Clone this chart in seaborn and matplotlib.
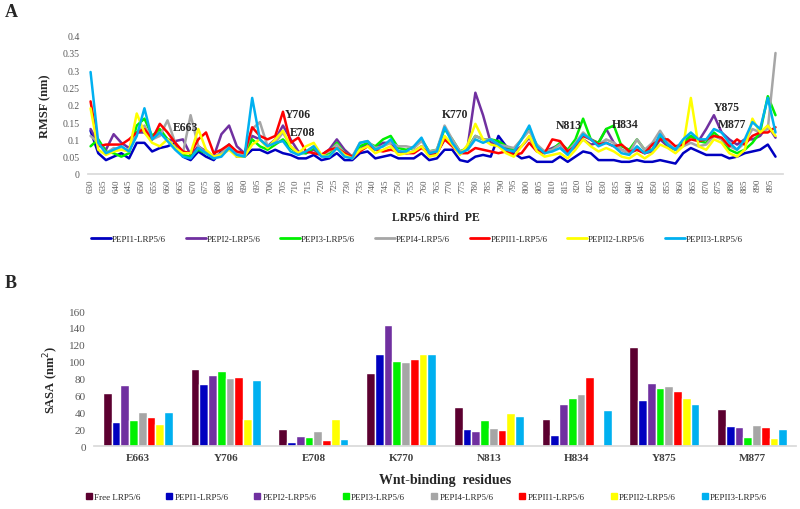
import numpy as np
import pandas as pd
import seaborn as sns
import matplotlib.pyplot as plt
from matplotlib.lines import Line2D

# ---- panel A: RMSF per residue (read every 3rd residue) ----
residues = list(range(630, 898, 3))

pepi1 = [0.125, 0.06, 0.04, 0.05, 0.06, 0.045, 0.09, 0.09, 0.065, 0.075,
         0.08, 0.09, 0.05, 0.04, 0.065, 0.05, 0.04, 0.065, 0.085, 0.05,
         0.05, 0.07, 0.07, 0.06, 0.07, 0.06, 0.055, 0.045, 0.045, 0.055,
         0.04, 0.045, 0.06, 0.04, 0.04, 0.06, 0.065, 0.045, 0.05, 0.055,
         0.045, 0.045, 0.045, 0.06, 0.04, 0.045, 0.07, 0.07, 0.04, 0.035,
         0.05, 0.055, 0.05, 0.11, 0.08, 0.06, 0.045, 0.05, 0.035, 0.035,
         0.035, 0.05, 0.035, 0.05, 0.065, 0.06, 0.04, 0.04, 0.04, 0.035,
         0.035, 0.04, 0.035, 0.035, 0.04, 0.035, 0.03, 0.06, 0.075, 0.065,
         0.055, 0.055, 0.055, 0.045, 0.05, 0.06, 0.065, 0.07, 0.085, 0.05]
pepi2 = [0.13, 0.09, 0.07, 0.115, 0.09, 0.075, 0.12, 0.12, 0.1, 0.12,
         0.1, 0.095, 0.1, 0.055, 0.08, 0.065, 0.05, 0.115, 0.14, 0.08,
         0.06, 0.11, 0.1, 0.08, 0.1, 0.14, 0.1, 0.065, 0.06, 0.07,
         0.055, 0.07, 0.1, 0.07, 0.05, 0.07, 0.09, 0.075, 0.09, 0.09,
         0.065, 0.06, 0.065, 0.08, 0.055, 0.06, 0.1, 0.09, 0.06, 0.08,
         0.235, 0.17, 0.09, 0.09, 0.075, 0.065, 0.08, 0.105, 0.07, 0.065,
         0.075, 0.085, 0.06, 0.08, 0.1, 0.085, 0.09, 0.13, 0.09, 0.07,
         0.06, 0.07, 0.06, 0.065, 0.1, 0.08, 0.07, 0.09, 0.11, 0.095,
         0.13, 0.17, 0.12, 0.1, 0.085, 0.1, 0.1, 0.11, 0.14, 0.105]
pepi3 = [0.08, 0.1, 0.065, 0.06, 0.05, 0.06, 0.14, 0.16, 0.11, 0.13,
         0.1, 0.075, 0.055, 0.05, 0.07, 0.06, 0.045, 0.06, 0.08, 0.055,
         0.05, 0.1, 0.08, 0.07, 0.085, 0.1, 0.075, 0.06, 0.06, 0.075,
         0.055, 0.06, 0.09, 0.06, 0.05, 0.08, 0.09, 0.08, 0.1, 0.11,
         0.075, 0.07, 0.075, 0.1, 0.065, 0.07, 0.13, 0.1, 0.065, 0.075,
         0.11, 0.1, 0.1, 0.095, 0.08, 0.07, 0.1, 0.13, 0.08, 0.065,
         0.07, 0.09, 0.07, 0.1, 0.16, 0.1, 0.09, 0.13, 0.14, 0.08,
         0.07, 0.1, 0.07, 0.07, 0.11, 0.085, 0.07, 0.09, 0.11, 0.095,
         0.09, 0.12, 0.1, 0.07, 0.06, 0.07, 0.09, 0.12, 0.225, 0.17]
pepi4 = [0.11, 0.09, 0.06, 0.075, 0.07, 0.07, 0.12, 0.14, 0.1, 0.11,
         0.155, 0.09, 0.06, 0.17, 0.08, 0.06, 0.05, 0.06, 0.085, 0.06,
         0.055, 0.13, 0.15, 0.08, 0.09, 0.12, 0.08, 0.06, 0.065, 0.08,
         0.055, 0.065, 0.085, 0.06, 0.05, 0.09, 0.095, 0.075, 0.08, 0.09,
         0.08, 0.08, 0.075, 0.095, 0.065, 0.07, 0.14, 0.1, 0.065, 0.07,
         0.11, 0.1, 0.1, 0.085, 0.08, 0.075, 0.1, 0.125, 0.085, 0.065,
         0.07, 0.085, 0.065, 0.09, 0.12, 0.1, 0.085, 0.1, 0.09, 0.07,
         0.06, 0.1, 0.07, 0.09, 0.125, 0.09, 0.07, 0.08, 0.09, 0.08,
         0.085, 0.11, 0.1, 0.08, 0.07, 0.09, 0.13, 0.12, 0.13, 0.35]
pepii1 = [0.21, 0.08, 0.085, 0.085, 0.085, 0.1, 0.12, 0.13, 0.1, 0.145,
          0.12, 0.09, 0.065, 0.06, 0.1, 0.12, 0.06, 0.07, 0.085, 0.065,
          0.06, 0.135, 0.11, 0.1, 0.11, 0.18, 0.09, 0.105, 0.065, 0.06,
          0.055, 0.07, 0.075, 0.06, 0.05, 0.065, 0.08, 0.07, 0.065, 0.07,
          0.065, 0.06, 0.06, 0.075, 0.06, 0.06, 0.1, 0.08, 0.06, 0.06,
          0.075, 0.07, 0.065, 0.06, 0.065, 0.055, 0.06, 0.09, 0.065, 0.06,
          0.1, 0.095, 0.065, 0.08, 0.11, 0.1, 0.085, 0.09, 0.08, 0.085,
          0.065, 0.07, 0.06, 0.085, 0.1, 0.1, 0.08, 0.085, 0.1, 0.095,
          0.1, 0.11, 0.105, 0.08, 0.1, 0.085, 0.11, 0.12, 0.12, 0.135]
pepii2 = [0.19, 0.07, 0.055, 0.065, 0.07, 0.065, 0.175, 0.12, 0.09, 0.08,
          0.1, 0.075, 0.06, 0.06, 0.13, 0.07, 0.05, 0.055, 0.07, 0.05,
          0.05, 0.085, 0.1, 0.075, 0.1, 0.125, 0.08, 0.06, 0.08, 0.09,
          0.055, 0.05, 0.075, 0.055, 0.045, 0.07, 0.08, 0.06, 0.07, 0.08,
          0.055, 0.06, 0.065, 0.08, 0.05, 0.055, 0.11, 0.085, 0.055, 0.085,
          0.145, 0.1, 0.085, 0.08, 0.06, 0.05, 0.08, 0.11, 0.065, 0.05,
          0.055, 0.06, 0.045, 0.07, 0.1, 0.08, 0.065, 0.075, 0.065, 0.05,
          0.045, 0.06, 0.045, 0.06, 0.085, 0.075, 0.06, 0.08, 0.22, 0.08,
          0.07, 0.1, 0.09, 0.06, 0.05, 0.07, 0.16, 0.12, 0.14, 0.11]
pepii3 = [0.295, 0.09, 0.06, 0.07, 0.08, 0.065, 0.11, 0.19, 0.1, 0.12,
          0.095, 0.07, 0.05, 0.045, 0.075, 0.06, 0.045, 0.05, 0.075, 0.055,
          0.05, 0.22, 0.1, 0.08, 0.09, 0.095, 0.065, 0.055, 0.065, 0.08,
          0.05, 0.05, 0.075, 0.05, 0.045, 0.09, 0.095, 0.07, 0.08, 0.1,
          0.065, 0.065, 0.08, 0.105, 0.06, 0.065, 0.135, 0.09, 0.06, 0.07,
          0.1, 0.09, 0.1, 0.085, 0.07, 0.065, 0.1, 0.14, 0.08, 0.06,
          0.065, 0.075, 0.055, 0.085, 0.115, 0.1, 0.08, 0.09, 0.08, 0.06,
          0.055, 0.08, 0.06, 0.07, 0.115, 0.085, 0.07, 0.1, 0.12, 0.1,
          0.1, 0.13, 0.12, 0.09, 0.07, 0.1, 0.15, 0.13, 0.22, 0.12]

line_names = ['PEPI1-LRP5/6', 'PEPI2-LRP5/6', 'PEPI3-LRP5/6', 'PEPI4-LRP5/6',
              'PEPII1-LRP5/6', 'PEPII2-LRP5/6', 'PEPII3-LRP5/6']
line_colors = ['#0000C0', '#7030A0', '#00F000', '#A6A6A6',
               '#FF0000', '#FFFF00', '#00B0F0']

# residue labels shown on panel A
site_labels = ['E663', 'Y706', 'E708', 'K770', 'N813', 'H834', 'Y875', 'M877']
site_pos = [(667, 0.136), (711, 0.174), (712.5, 0.122), (772, 0.174),
            (816.5, 0.142), (838.5, 0.145), (878, 0.194), (880, 0.145)]

# ---- panel B: SASA of Wnt-binding residues ----
sites = ['E663', 'Y706', 'E708', 'K770', 'N813', 'H834', 'Y875', 'M877']
bar_names = ['Free LRP5/6'] + line_names
free_sasa   = [62.5, 90.8, 20.4, 86, 46.4, 32.6, 117.5, 43.6]
pepi1_sasa  = [29, 74, 4.7, 109, 20.4, 13, 55, 24]
pepi2_sasa  = [72.7, 83.7, 11.8, 143.5, 17.7, 50, 74.7, 22]
pepi3_sasa  = [31, 88.8, 10.6, 101, 31, 57, 68.4, 10.2]
pepi4_sasa  = [40, 80.6, 17.7, 99.4, 21, 62, 71, 25]
pepii1_sasa = [34, 82, 7, 102.6, 19, 81.8, 65.6, 23]
pepii2_sasa = [26, 32, 32, 109, 39.7, 1.2, 57, 9.4]
pepii3_sasa = [40, 78.6, 8, 108.5, 35.8, 42.5, 50, 20.4]
bar_colors = ['#5C0030'] + line_colors

sns.set_theme(style='white')
plt.rcParams['font.family'] = ['Liberation Serif', 'DejaVu Serif']
tick_grey = '#595959'

fig = plt.figure(figsize=(8, 5.1), dpi=100)
ax1 = fig.add_axes([0.11, 0.657, 0.869, 0.271])
ax2 = fig.add_axes([0.1175, 0.1235, 0.8775, 0.2647])

# ── A. RMSF lines ─────────────────────────────────────────
rmsf = pd.DataFrame({'Residue': residues,
                     line_names[0]: pepi1, line_names[1]: pepi2,
                     line_names[2]: pepi3, line_names[3]: pepi4,
                     line_names[4]: pepii1, line_names[5]: pepii2,
                     line_names[6]: pepii3})
rmsf = rmsf.melt(id_vars='Residue', var_name='Complex', value_name='RMSF')
sns.lineplot(data=rmsf, x='Residue', y='RMSF', hue='Complex',
             hue_order=line_names, palette=line_colors, lw=1.8, ax=ax1)

ax1.set_xlim(629, 900)
ax1.set_ylim(0, 0.4)
ax1.set_xticks(range(630, 900, 5))
ax1.set_yticks(np.arange(0, 0.41, 0.05))
ax1.set_yticklabels([f'{v:g}' for v in np.arange(0, 0.41, 0.05).round(2)])
ax1.tick_params(axis='x', labelrotation=90, labelsize=6.5, colors=tick_grey, length=0, pad=3)
ax1.tick_params(axis='y', labelsize=7, colors=tick_grey, length=0, pad=6)
for s in ['top', 'right', 'left']:
    ax1.spines[s].set_visible(False)
ax1.spines['bottom'].set_color('#D9D9D9')
ax1.set_xlabel('LRP5/6 third  PE', fontsize=8.5, fontweight='bold', labelpad=14)
ax1.set_ylabel('RMSF (nm)', fontsize=9, fontweight='bold', labelpad=8)

for lab, (x, y) in zip(site_labels, site_pos):
    ax1.text(x, y, lab, ha='center', va='center', fontsize=8.5, fontweight='bold')

h1 = [Line2D([], [], color=c, lw=2) for c in line_colors]
ax1.legend(h1, line_names, ncol=7, frameon=False, fontsize=6.5,
           loc='center', bbox_to_anchor=(0.473, -0.47), handlelength=2.2,
           handletextpad=0.1, columnspacing=2.2)

# ── B. SASA bars ──────────────────────────────────────────
sasa = pd.DataFrame({'Residue': sites,
                     bar_names[0]: free_sasa, bar_names[1]: pepi1_sasa,
                     bar_names[2]: pepi2_sasa, bar_names[3]: pepi3_sasa,
                     bar_names[4]: pepi4_sasa, bar_names[5]: pepii1_sasa,
                     bar_names[6]: pepii2_sasa, bar_names[7]: pepii3_sasa})
sasa = sasa.melt(id_vars='Residue', var_name='Complex', value_name='SASA')
sns.barplot(data=sasa, x='Residue', y='SASA', hue='Complex', hue_order=bar_names,
            palette=bar_colors, saturation=1, width=0.8, ax=ax2, legend=False)

ax2.set_xlim(-0.5, 7.5)
ax2.set_ylim(0, 160)
ax2.set_yticks(range(0, 161, 20))
ax2.tick_params(axis='y', labelsize=8, colors=tick_grey, length=0, pad=6)
ax2.tick_params(axis='x', labelsize=8, length=0, pad=5)
for t in ax2.get_xticklabels():
    t.set_fontweight('bold')
    t.set_color('#404040')
for s in ['top', 'right', 'left']:
    ax2.spines[s].set_visible(False)
ax2.spines['bottom'].set_color('#D9D9D9')
ax2.set_xlabel('Wnt-binding  residues', fontsize=10, fontweight='bold', labelpad=8)
ax2.set_ylabel('SASA (nm$^2$)', fontsize=9, fontweight='bold', labelpad=6)

h2 = [Line2D([], [], marker='s', ls='', color=c, markersize=4) for c in bar_colors]
ax2.legend(h2, bar_names, ncol=8, frameon=False, fontsize=6.5,
           loc='center', bbox_to_anchor=(0.473, -0.38), handlelength=0.8,
           handletextpad=0.2, columnspacing=2.8)

fig.text(0.006, 0.975, 'A', fontsize=13, fontweight='bold', va='center')
fig.text(0.006, 0.445, 'B', fontsize=13, fontweight='bold', va='center')

fig.savefig('out.png', dpi=100, facecolor='white')
